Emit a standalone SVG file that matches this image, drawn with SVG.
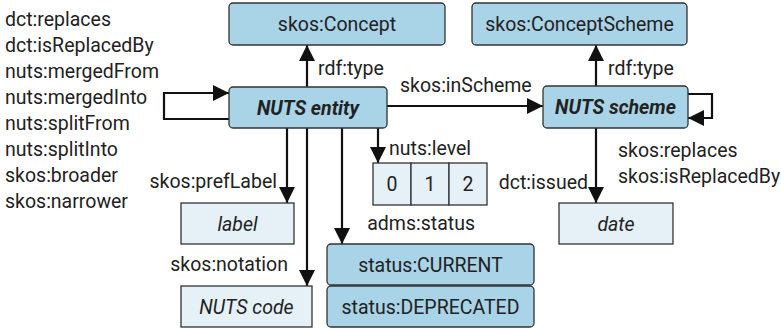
<svg xmlns="http://www.w3.org/2000/svg" width="781" height="332" viewBox="0 0 781 332">
<defs>
<marker id="ah" viewBox="0 0 10 10" refX="10" refY="5" markerWidth="16" markerHeight="16" markerUnits="userSpaceOnUse" orient="auto">
<path d="M0,0 L10,5 L0,10 z" fill="#111"/>
</marker>
</defs>
<style>
text{font-family:Roboto,"Liberation Sans",sans-serif;font-size:19.5px;fill:#222}
.c{text-anchor:middle}
.e{text-anchor:end}
.bi{font-weight:bold;font-style:italic}
.i{font-style:italic}
.dk{fill:#a9d3e7;stroke:#333;stroke-width:1.3}
.lt{fill:#e5f0f7;stroke:#333;stroke-width:1.3}
.cn{fill:none;stroke:#111;stroke-width:2.2;marker-end:url(#ah)}
</style>
<g id="connectors">
<path class="cn" d="M307,87 V45"/>
<path class="cn" d="M229,119 H164 V93 H229"/>
<path class="cn" d="M387,106 H543"/>
<path class="cn" d="M596,86 V45"/>
<path class="cn" d="M688,94 H712 V118 H688"/>
<path class="cn" d="M287,128 V203"/>
<path class="cn" d="M307,128 V286"/>
<path class="cn" d="M342,128 V244"/>
<path class="cn" d="M378,128 V163"/>
<path class="cn" d="M596,128 V203"/>
</g>
<g id="labels">
<text x="5" y="26">dct:replaces</text>
<text x="5" y="52">dct:isReplacedBy</text>
<text x="5" y="78">nuts:mergedFrom</text>
<text x="5" y="104">nuts:mergedInto</text>
<text x="5" y="130">nuts:splitFrom</text>
<text x="5" y="156">nuts:splitInto</text>
<text x="5" y="182">skos:broader</text>
<text x="5" y="208">skos:narrower</text>
<text x="318" y="75">rdf:type</text>
<text x="608" y="75">rdf:type</text>
<text x="400" y="92">skos:inScheme</text>
<text x="389" y="155">nuts:level</text>
<text x="277" y="188" class="e">skos:prefLabel</text>
<text x="288" y="271" class="e">skos:notation</text>
<text x="475" y="230" class="e">adms:status</text>
<text x="588" y="189" class="e">dct:issued</text>
<text x="618" y="157">skos:replaces</text>
<text x="618" y="183">skos:isReplacedBy</text>
</g>
<g id="skos-concept"><rect class="dk" x="229" y="3" width="216" height="42" rx="4"/><text x="337" y="31" class="c">skos:Concept</text></g>
<g id="skos-conceptscheme"><rect class="dk" x="472" y="3" width="215" height="42" rx="4"/><text x="579.5" y="31" class="c">skos:ConceptScheme</text></g>
<g id="nuts-entity"><rect class="dk" x="229" y="87" width="158" height="41" rx="4"/><text x="308" y="114.5" class="c bi">NUTS entity</text></g>
<g id="nuts-scheme"><rect class="dk" x="543" y="86" width="145" height="42" rx="4"/><text x="615.5" y="114" class="c bi">NUTS scheme</text></g>
<g id="levels">
<rect class="lt" x="373" y="163" width="38" height="42"/><text x="392" y="191" class="c">0</text>
<rect class="lt" x="411" y="163" width="38" height="42"/><text x="430" y="191" class="c">1</text>
<rect class="lt" x="449" y="163" width="38" height="42"/><text x="468" y="191" class="c">2</text>
</g>
<g id="label"><rect class="lt" x="181" y="203" width="113" height="41"/><text x="237.5" y="230.5" class="c i">label</text></g>
<g id="nuts-code"><rect class="lt" x="181" y="286" width="131" height="41"/><text x="246.5" y="313.5" class="c i">NUTS code</text></g>
<g id="date"><rect class="lt" x="559" y="203" width="114" height="41"/><text x="616" y="230.5" class="c i">date</text></g>
<g id="status-current"><rect class="dk" x="327" y="244" width="207" height="41" rx="4"/><text x="430.5" y="271.5" class="c">status:CURRENT</text></g>
<g id="status-deprecated"><rect class="dk" x="327" y="286" width="207" height="41" rx="4"/><text x="430.5" y="313.5" class="c">status:DEPRECATED</text></g>
</svg>
